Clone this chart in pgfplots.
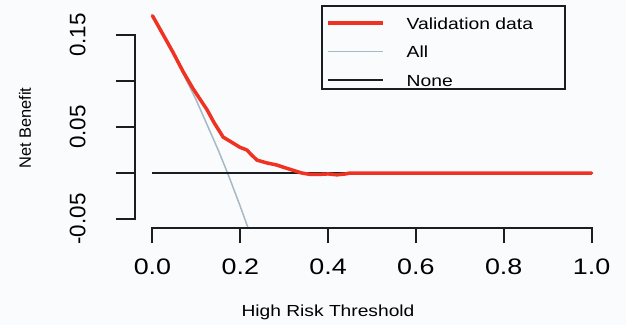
\documentclass[border=0pt]{standalone}
\usepackage{fontspec}
\setmainfont{Liberation Sans}[FakeStretch=1.2]
\newfontfamily\rotfont{Liberation Sans}
\usepackage{pgfplots}
\pgfplotsset{compat=1.18}
\definecolor{vred}{RGB}{240,50,35}
\definecolor{allgrey}{RGB}{165,185,198}
\definecolor{nonecol}{RGB}{25,30,35}
\definecolor{bgc}{RGB}{250,251,253}
\begin{document}
\begin{tikzpicture}
\fill[bgc] (-134.9bp,-96.8bp) rectangle (491.1bp,228.2bp);
\begin{axis}[
 scale only axis, width=474.2bp, height=220.8bp,
 xmin=-0.04, xmax=1.04, ymin=-0.06, ymax=0.18,
 clip=false,
 axis x line*=bottom, axis y line*=left,
 x axis line style={draw=nonecol, line width=2bp, -, shorten <=17.56bp, shorten >=17.6bp},
 y axis line style={draw=nonecol, line width=2bp, -, shorten <=9.2bp, shorten >=27.6bp},
 tick align=outside,
 major tick style={line width=2bp, nonecol},
 xtick={0,0.2,0.4,0.6,0.8,1.0},
 xticklabels={0.0,0.2,0.4,0.6,0.8,1.0},
 ytick={-0.05,0,0.05,0.1,0.15},
 yticklabels={-0.05,,0.05,,0.15},
 x tick style={/pgfplots/major tick length=15bp},
 y tick style={/pgfplots/major tick length=19bp},
 xticklabel style={font=\fontsize{22.4bp}{26bp}\selectfont, anchor=center, yshift=-34.8bp},
 yticklabel style={font=\rotfont\fontsize{22.4bp}{26bp}\selectfont, rotate=90, anchor=center, yshift=53bp},
 xlabel={High Risk Threshold},
 ylabel={Net Benefit},
 xlabel style={font=\fontsize{16bp}{19bp}\selectfont, at={(axis description cs:0.4072,-0.3795)}, anchor=center},
 ylabel style={font=\rotfont\fontsize{16.4bp}{19bp}\selectfont, at={(axis description cs:-0.2318,0.4538)}, anchor=center},
 legend cell align=left,
 legend image code/.code={\path[draw=none] (0bp,11bp) -- (0bp,-6bp); \draw[#1] (0bp,0bp) -- (55bp,0bp);},
 legend style={at={(axis description cs:0.4030,0.9792)}, anchor=north west,
   draw=none, fill=none, inner xsep=0pt, inner ysep=0pt,
   row sep=11.5bp, column sep=22bp,
   font=\fontsize{16.1bp}{19bp}\selectfont,
   nodes={inner sep=0pt, text height=12bp, text depth=0pt}},
]
\addlegendimage{vred, line width=3.5bp}
\addlegendentry{Validation data}
\addlegendimage{allgrey, line width=1.5bp}
\addlegendentry{All}
\addlegendimage{nonecol, line width=1.6bp}
\addlegendentry{None}

\addplot[allgrey, line width=1.5bp, forget plot] coordinates {
(0,0.171) (0.05,0.1274) (0.10,0.0789) (0.15,0.0247) (0.175,-0.0048) (0.20,-0.0363) (0.218,-0.0601)
};
\addplot[nonecol, line width=1.6bp, forget plot] coordinates {(0,0) (1,0)};
\addplot[vred, line width=3.5bp, line join=round, line cap=round, forget plot] coordinates {
(0,0.171) (0.02,0.154) (0.047,0.131) (0.07,0.110) (0.092,0.092) (0.11,0.079)
(0.124,0.069) (0.14,0.055) (0.161,0.039) (0.175,0.035) (0.199,0.028) (0.215,0.025)
(0.225,0.020) (0.238,0.014) (0.26,0.011) (0.283,0.0087) (0.30,0.006) (0.32,0.003)
(0.34,0.000) (0.359,-0.0015) (0.38,-0.0015) (0.40,-0.001) (0.42,-0.002) (0.44,-0.001)
(0.45,0) (1.0,0)
};
\end{axis}
\fill[nonecol] (-1.1bp,8.2bp) rectangle (1.1bp,194.2bp);
\fill[nonecol] (16.5bp,-1.1bp) rectangle (457.6bp,1.1bp);
\draw[nonecol, line width=1.2bp] (187.1bp,222.2bp) rectangle (430.1bp,139.2bp);
\pgfresetboundingbox
\path[use as bounding box] (-134.9bp,-96.8bp) rectangle (491.1bp,228.2bp);
\end{tikzpicture}
\end{document}
